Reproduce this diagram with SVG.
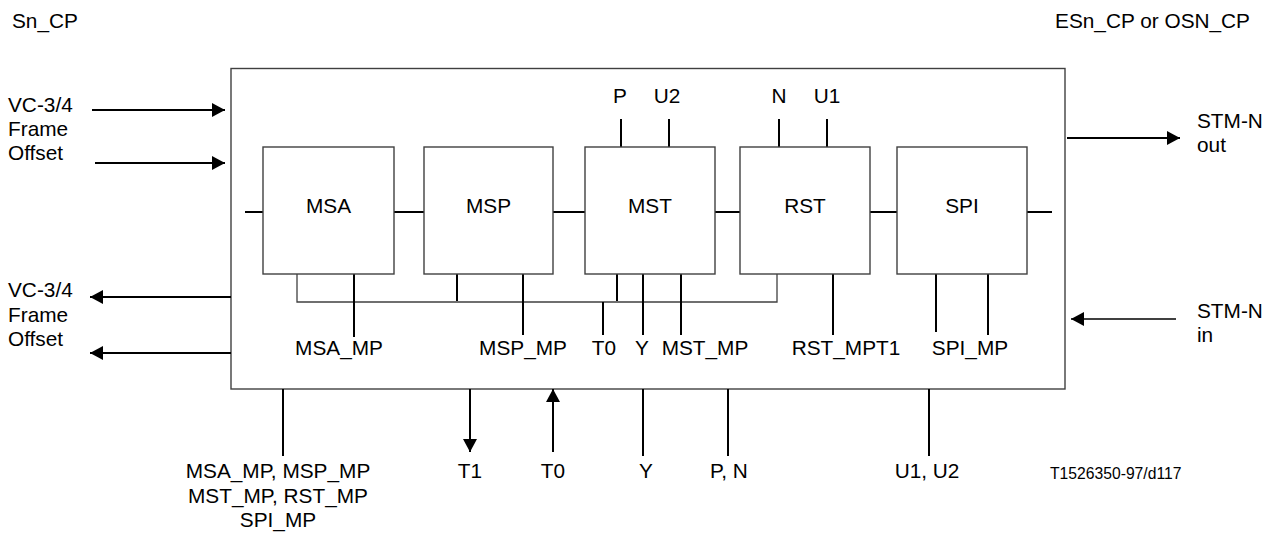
<svg xmlns="http://www.w3.org/2000/svg" width="1276" height="533" viewBox="0 0 1276 533">
<style>
text{font-family:"Liberation Sans",Arial,sans-serif;font-size:20.8px;fill:#000}
.m{text-anchor:middle}
.box{fill:#fff;stroke:#404040;stroke-width:1.4}
.w{stroke:#000;stroke-width:2;fill:none}
.t{stroke:#404040;stroke-width:1.3;fill:none}
.small{font-size:15.7px}
</style>
<defs>
<marker id="ah" markerUnits="userSpaceOnUse" markerWidth="13" markerHeight="14" refX="13" refY="7" orient="auto">
<path d="M0,0 L13,7 L0,14 z" fill="#000"/>
</marker>
</defs>
<text x="12" y="28">Sn_CP</text>
<text x="1250" y="28" text-anchor="end">ESn_CP or OSN_CP</text>
<g id="outer"><rect class="box" x="231" y="68.5" width="834" height="320.5"/></g>
<g id="connectors">
<line class="w" x1="92" y1="110" x2="225" y2="110" marker-end="url(#ah)"/>
<line class="w" x1="95" y1="163" x2="225" y2="163" marker-end="url(#ah)"/>
<line class="w" x1="231" y1="297" x2="90" y2="297" marker-end="url(#ah)"/>
<line class="w" x1="231" y1="353" x2="90" y2="353" marker-end="url(#ah)"/>
<line class="w" x1="1067" y1="138" x2="1180" y2="138" marker-end="url(#ah)"/>
<line stroke="#000" stroke-width="1.3" x1="1176" y1="319" x2="1071" y2="319" marker-end="url(#ah)"/>
<line class="w" x1="245" y1="212" x2="263" y2="212"/>
<line class="w" x1="394" y1="212" x2="424" y2="212"/>
<line class="w" x1="553" y1="212" x2="585" y2="212"/>
<line class="w" x1="715" y1="212" x2="740" y2="212"/>
<line class="w" x1="870" y1="212" x2="897" y2="212"/>
<line class="w" x1="1027" y1="212" x2="1052" y2="212"/>
<line class="w" x1="621" y1="119" x2="621" y2="147"/>
<line class="w" x1="669" y1="119" x2="669" y2="147"/>
<line class="w" x1="779" y1="119" x2="779" y2="147"/>
<line class="w" x1="827" y1="119" x2="827" y2="147"/>
<polyline class="t" points="297,274 297,302 777,302 777,274"/>
<line class="w" x1="354" y1="274" x2="354" y2="337"/>
<line class="w" x1="457" y1="274" x2="457" y2="301"/>
<line class="w" x1="523" y1="274" x2="523" y2="335"/>
<line class="w" x1="617" y1="274" x2="617" y2="301"/>
<line class="w" x1="603" y1="302" x2="603" y2="335"/>
<line class="w" x1="643" y1="274" x2="643" y2="335"/>
<line class="w" x1="681" y1="274" x2="681" y2="335"/>
<line class="w" x1="833" y1="274" x2="833" y2="335"/>
<line class="w" x1="936" y1="274" x2="936" y2="332"/>
<line class="w" x1="988" y1="274" x2="988" y2="335"/>
<line class="w" x1="283" y1="389" x2="283" y2="456"/>
<line class="w" x1="470" y1="389" x2="470" y2="452" marker-end="url(#ah)"/>
<line class="w" x1="553" y1="452" x2="553" y2="389" marker-end="url(#ah)"/>
<line class="w" x1="643" y1="389" x2="643" y2="456"/>
<line class="w" x1="728" y1="389" x2="728" y2="456"/>
<line class="w" x1="929" y1="389" x2="929" y2="456"/>
</g>
<g id="MSA"><rect class="box" x="263" y="147" width="131" height="127"/><text class="m" x="328.5" y="213">MSA</text></g>
<g id="MSP"><rect class="box" x="424" y="147" width="129" height="127"/><text class="m" x="488.5" y="213">MSP</text></g>
<g id="MST"><rect class="box" x="585" y="147" width="130" height="127"/><text class="m" x="650" y="213">MST</text></g>
<g id="RST"><rect class="box" x="740" y="147" width="130" height="127"/><text class="m" x="805" y="213">RST</text></g>
<g id="SPI"><rect class="box" x="897" y="147" width="130" height="127"/><text class="m" x="962" y="213">SPI</text></g>
<g id="labels">
<text x="8" y="112">VC-3/4</text>
<text x="8" y="136">Frame</text>
<text x="8" y="160">Offset</text>
<text x="8" y="297">VC-3/4</text>
<text x="8" y="322">Frame</text>
<text x="8" y="346">Offset</text>
<text x="1197" y="128">STM-N</text>
<text x="1197" y="152">out</text>
<text x="1197" y="318">STM-N</text>
<text x="1197" y="342">in</text>
<text class="m" x="620" y="103">P</text>
<text class="m" x="667" y="103">U2</text>
<text class="m" x="779" y="103">N</text>
<text class="m" x="827" y="103">U1</text>
<text class="m" x="339" y="355">MSA_MP</text>
<text class="m" x="523" y="355">MSP_MP</text>
<text class="m" x="604" y="355">T0</text>
<text class="m" x="642" y="355">Y</text>
<text class="m" x="705" y="355">MST_MP</text>
<text class="m" x="846" y="355">RST_MPT1</text>
<text class="m" x="970" y="355">SPI_MP</text>
<text class="m" x="278" y="478">MSA_MP, MSP_MP</text>
<text class="m" x="278" y="503">MST_MP, RST_MP</text>
<text class="m" x="278" y="527">SPI_MP</text>
<text class="m" x="470" y="478">T1</text>
<text class="m" x="553" y="478">T0</text>
<text class="m" x="646" y="478">Y</text>
<text class="m" x="729" y="478">P, N</text>
<text class="m" x="927" y="478">U1, U2</text>
<text class="small" x="1050" y="479">T1526350-97/d117</text>
</g>
</svg>
